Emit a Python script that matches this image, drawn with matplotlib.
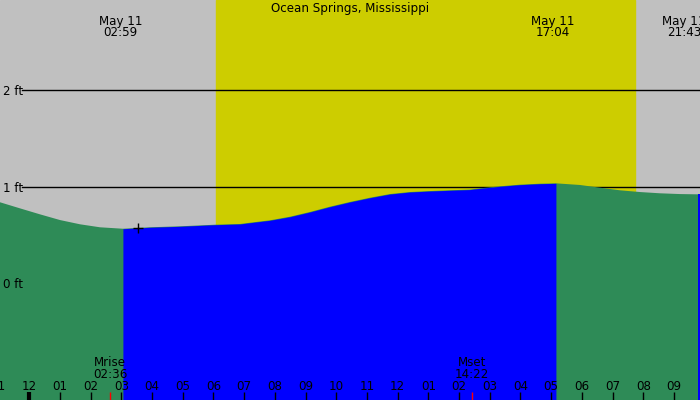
"""
Tide chart for Ocean Springs, Mississippi (one day, May 11).
"""
from matplotlib import pyplot as plt
from matplotlib import transforms
import numpy as np

# tide height (ft), hours from midnight May 11
tide_hours = [-0.954, -0.303, 0.349, 1.0, 1.652, 2.303, 3.05, 3.93, 4.909, 6.08, 6.863,
              7.189, 7.84, 8.49, 9.14, 9.795, 10.446, 11.1, 11.75, 12.4, 13.05, 13.7,
              14.35, 14.68, 15.33, 15.98, 16.63, 17.156, 17.938, 18.59, 19.24, 19.89,
              20.54, 21.19, 21.80, 21.86]
tide_feet = [0.839, 0.776, 0.714, 0.655, 0.611, 0.580, 0.565, 0.580, 0.590, 0.607, 0.614,
             0.627, 0.652, 0.689, 0.738, 0.793, 0.842, 0.886, 0.924, 0.945, 0.955, 0.963,
             0.970, 0.983, 1.004, 1.021, 1.031, 1.035, 1.018, 0.990, 0.963, 0.945,
             0.932, 0.924, 0.921, 0.921]

station = 'Ocean Springs, Mississippi'
sunrise, sunset = 6.08, 19.73
# rising-tide stretches painted blue
rising_spans = [(3.05, 17.156), (21.80, 21.86)]
# (label position in hours, date, time) -- last one is pushed left to stay in frame
tide_events = [(2.983, 'May 11', '02:59'), (17.067, 'May 11', '17:04'), (21.33, 'May 11', '21:43')]
moon_events = [(2.63, 'Mrise', '02:36'), (14.43, 'Mset', '14:22')]
feet_marks = [0, 1, 2]
now_hour, now_feet = 3.54, 0.569

x0, x1 = -0.954, 21.85
y0, y1 = -1.208, 2.933

fig = plt.figure(figsize=(7, 4), dpi=100)
ax = fig.add_axes([0, 0, 1, 1])
ax.set_xlim(x0, x1)
ax.set_ylim(y0, y1)
ax.axis('off')

# day / night background
ax.axvspan(x0, x1, color='#c0c0c0', zorder=0)
ax.axvspan(sunrise, sunset, color='#cdcd00', zorder=0)

# height lines, drawn under the water
for ft in feet_marks:
    if ft > 0:
        ax.plot([x0 + 22 / 30.7, x1], [ft, ft], color='black', lw=1, zorder=1)

t = np.array(tide_hours)
h = np.array(tide_feet)
ax.fill_between(t, h, y0, color='#2e8b57', lw=0, zorder=2)
for a, b in rising_spans:
    sel = (t >= a - 1e-6) & (t <= b + 1e-6)
    ax.fill_between(t[sel], h[sel], y0, color='#0000ff', lw=0, zorder=3)

ax.plot([now_hour], [now_feet], marker='+', color='black', ms=7, mew=1, zorder=5)

px = transforms.blended_transform_factory(ax.transData, fig.transFigure)
fs = 8.6

def fy(pix):
    return 1 - pix / 400

fig.text(0.5, fy(12), station, ha='center', va='baseline', fontsize=fs)

for hr, day, clock in tide_events:
    ax.text(hr, fy(25), day, ha='center', va='baseline', fontsize=fs, transform=px)
    ax.text(hr, fy(36.5), clock, ha='center', va='baseline', fontsize=fs, transform=px)

for ft in feet_marks:
    y_pix = 283.3 - ft * 96.6 + 5
    fig.text(3 / 700, fy(y_pix), f'{ft} ft', ha='left', va='baseline', fontsize=fs)

# hour ticks along the bottom
for hr in range(-1, 22):
    lab = f'{(hr % 12) or 12:02d}'
    ax.text(hr, fy(390), lab, ha='center', va='baseline', fontsize=fs, transform=px)
    ax.plot([hr, hr], [fy(400), fy(392)], color='black', lw=3 if hr == 0 else 1,
            transform=px, solid_capstyle='butt', zorder=6)

for hr, name, clock in moon_events:
    ax.plot([hr, hr], [fy(400), fy(392)], color='red', lw=1, transform=px,
            solid_capstyle='butt', zorder=6)
    ax.text(hr, fy(366.5), name, ha='center', va='baseline', fontsize=fs, transform=px)
    ax.text(hr, fy(378.3), clock, ha='center', va='baseline', fontsize=fs, transform=px)

fig.savefig('out.png', dpi=100)
